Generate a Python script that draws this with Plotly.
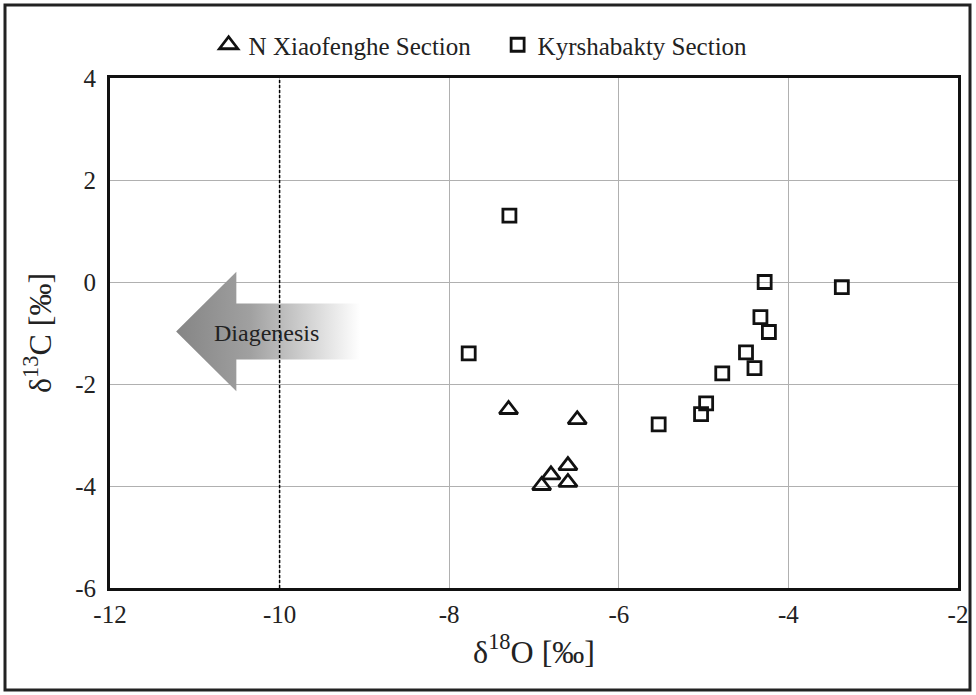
import plotly.graph_objects as go

# Data
tri_x = [-7.30, -6.49, -6.60, -6.80, -6.91, -6.60]
tri_y = [-2.50, -2.70, -3.60, -3.78, -3.99, -3.93]
sq_x = [-7.29, -7.77, -5.53, -5.03, -4.97, -4.78, -4.50, -4.40, -4.33, -4.23, -4.28, -3.37]
sq_y = [1.30, -1.40, -2.79, -2.59, -2.38, -1.79, -1.38, -1.69, -0.69, -0.98, 0.00, -0.10]
tri_name = "N Xiaofenghe Section"
sq_name = "Kyrshabakty Section"
x_ticks = [-12, -10, -8, -6, -4, -2]
y_ticks = [-6, -4, -2, 0, 2, 4]
diag_line_x = -10
arrow_x = [-11.22, -10.51, -10.51, -9.05, -9.05, -10.51, -10.51, -11.22]
arrow_y = [-0.97, 0.20, -0.42, -0.42, -1.52, -1.52, -2.14, -0.97]

FONT = "Liberation Serif"
L, R, T, B = 110, 18, 78, 107
W, H = 976, 695
pw, ph = W - L - R, H - T - B

fig = go.Figure()

fig.add_trace(go.Scatter(
    x=arrow_x, y=arrow_y, mode="lines", fill="toself",
    line=dict(width=0, color="rgba(0,0,0,0)"),
    fillgradient=dict(type="horizontal",
                      colorscale=[[0, "#858585"], [0.4, "#a0a0a0"], [1, "#ffffff"]]),
    showlegend=False, hoverinfo="skip"))

fig.add_trace(go.Scatter(
    x=[diag_line_x, diag_line_x], y=[-6, 4], mode="lines",
    line=dict(color="black", width=1.5, dash="3px,2px"),
    showlegend=False, hoverinfo="skip"))

fig.add_trace(go.Scatter(
    x=tri_x, y=tri_y, mode="markers", name=tri_name,
    marker=dict(symbol="triangle-up-open", size=16, color="#111",
                line=dict(width=2.8, color="#111"))))
fig.add_trace(go.Scatter(
    x=sq_x, y=sq_y, mode="markers", name=sq_name,
    marker=dict(symbol="square-open", size=13, color="#111",
                line=dict(width=2.8, color="#111"))))

fig.add_annotation(x=-10.15, y=-1.0, text="Diagenesis", showarrow=False,
                   font=dict(family=FONT, size=24, color="#222"))

# outer frame
fig.add_shape(type="rect", xref="paper", yref="paper",
              x0=(5 - L) / pw, x1=(970 - L) / pw,
              y0=-(690 - T - ph) / ph, y1=(T + ph - 5) / ph,
              line=dict(color="#222", width=3), fillcolor="rgba(0,0,0,0)")

fig.update_xaxes(range=[-12, -2], tickvals=x_ticks, ticktext=[str(v) for v in x_ticks],
                 showgrid=True, gridcolor="#b0b0b0", gridwidth=1.3,
                 showline=True, linecolor="#111", linewidth=3, mirror=True,
                 zeroline=False, ticks="", ticklabelstandoff=2,
                 tickfont=dict(family=FONT, size=25, color="#222"),
                 title=dict(text="δ<sup>18</sup>O [‰]", standoff=14,
                            font=dict(family=FONT, size=32, color="#222")))
fig.update_yaxes(range=[-6, 4], tickvals=y_ticks, ticktext=[str(v) for v in y_ticks],
                 showgrid=True, gridcolor="#b0b0b0", gridwidth=1.3,
                 showline=True, linecolor="#111", linewidth=3, mirror=True,
                 zeroline=False, ticks="", ticklabelstandoff=6,
                 tickfont=dict(family=FONT, size=25, color="#222"),
                 title=dict(text="δ<sup>13</sup>C [‰]", standoff=14,
                            font=dict(family=FONT, size=32, color="#222")))

fig.update_layout(
    width=W, height=H, margin=dict(l=L, r=R, t=T, b=B, autoexpand=False),
    paper_bgcolor="white", plot_bgcolor="white",
    font=dict(family=FONT, color="#222"),
    legend=dict(orientation="h", x=0.1163, xanchor="left", y=(588 - 45) / ph, yanchor="middle",
                font=dict(family=FONT, size=25, color="#222"),
                entrywidth=244, entrywidthmode="pixels",
                itemwidth=30, tracegroupgap=0, bgcolor="rgba(0,0,0,0)"),
)

fig.write_html("out.html", config={"displayModeBar": False},
               post_script="document.body.style.margin='0';")
